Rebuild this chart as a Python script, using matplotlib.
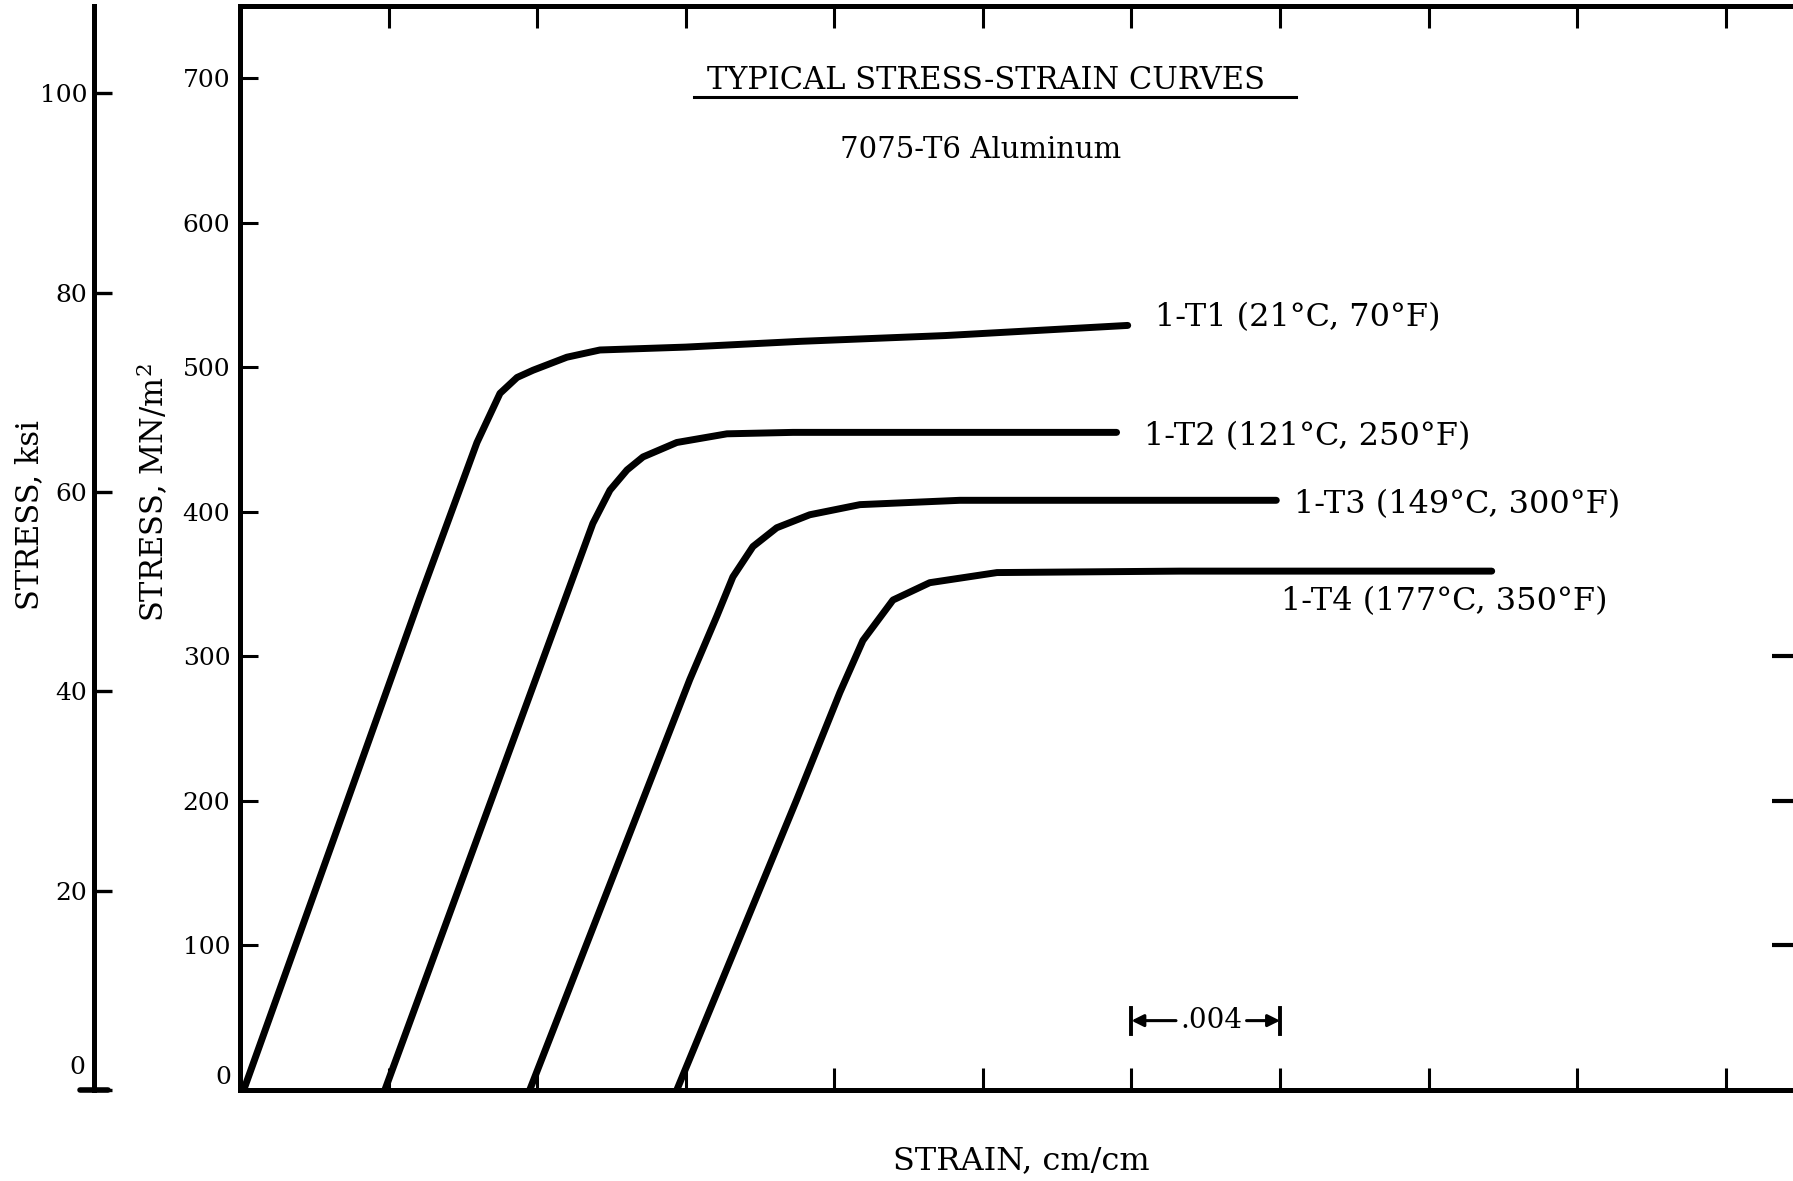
import matplotlib.pyplot as plt

plt.rcParams['font.family'] = ['DejaVu Serif']
plt.rcParams['mathtext.fontset'] = 'dejavuserif'

W, H = 1793, 1181
MPA_PER_KSI = 6.895

# stress-strain curves: strain (cm/cm), stress (MN/m^2)
T1_STRAIN = [0.0001, 0.0025, 0.00485, 0.00638, 0.0070, 0.00746, 0.00789,
             0.0088, 0.00969, 0.0120, 0.0151, 0.0190, 0.0239]
T1_STRESS = [0, 172, 341, 448, 482, 493, 498, 507, 512, 514, 518, 522, 529]

T2_STRAIN = [0.0039, 0.0095, 0.00996, 0.01042, 0.01085, 0.01176, 0.01311,
             0.01489, 0.0194, 0.0236]
T2_STRESS = [0, 392, 415, 429, 438, 448, 454, 455, 455, 455]

T3_STRAIN = [0.0078, 0.01211, 0.01284, 0.01327, 0.01381, 0.01445, 0.01534,
             0.01669, 0.01938, 0.0279]
T3_STRESS = [0, 284, 328, 355, 376, 389, 398, 405, 408, 408]

T4_STRAIN = [0.01176, 0.01499, 0.01615, 0.01677, 0.01758, 0.01857, 0.02038,
             0.0253, 0.0337]
T4_STRESS = [0, 201, 275, 311, 339, 351, 358, 359, 359]

CURVES = [(T1_STRAIN, T1_STRESS), (T2_STRAIN, T2_STRESS),
          (T3_STRAIN, T3_STRESS), (T4_STRAIN, T4_STRESS)]
CURVE_LABELS = ['1-T1 (21°C, 70°F)', '1-T2 (121°C, 250°F)',
                '1-T3 (149°C, 300°F)', '1-T4 (177°C, 350°F)']
LABEL_OFFSETS = [(20, 6), (20, -3), (13, -3), (-152, -22)]  # points from curve end

STRESS_TICKS = [0, 100, 200, 300, 400, 500, 600, 700]
KSI_TICKS = [0, 20, 40, 60, 80, 100]
STRAIN_TICKS = [0.004, 0.008, 0.012, 0.016, 0.020, 0.024, 0.028, 0.032,
                0.036, 0.040]
RIGHT_TICKS = [100, 200, 300]
SCALE_BAR = [0.024, 0.028]  # the ".004" strain marker
SCALE_BAR_STRESS = 48

TICK_FS = 18
KSI_SPINE = (94 - 240) / 1560  # axes fraction

fig = plt.figure(figsize=(W / 100, H / 100), dpi=100)
ax = fig.add_axes([240 / W, 91 / H, 1560 / W, 1084 / H])
ax.set_xlim(0, 0.042)
ax.set_ylim(0, 750)

for side in ['top', 'left', 'bottom']:
    ax.spines[side].set_linewidth(3.6)
ax.spines['right'].set_visible(False)

ax.set_xticks(STRAIN_TICKS)
ax.tick_params(axis='x', direction='in', top=True, bottom=True,
               labelbottom=False, length=16, width=2.2)
ax.set_yticks(STRESS_TICKS)
ax.set_yticklabels([''] + [str(v) for v in STRESS_TICKS[1:]])
ax.tick_params(axis='y', direction='in', left=True, right=False,
               length=13, width=2.2, labelsize=TICK_FS, pad=7)
ax.annotate('0', xy=(0, 0), xycoords=ax.get_yaxis_transform(),
            xytext=(-6, 9), textcoords='offset points',
            ha='right', va='center', fontsize=TICK_FS)

# right-hand ticks (the right border itself is off the sheet)
ax3 = ax.twinx()
ax3.set_ylim(0, 750)
ax3.set_yticks(RIGHT_TICKS)
ax3.tick_params(axis='y', direction='in', length=20, width=3, labelright=False)
for side in ax3.spines:
    ax3.spines[side].set_visible(False)

# ksi scale on a separate spine to the left
ax2 = ax.twinx()
ax2.set_ylim(0, 750 / MPA_PER_KSI)
ax2.yaxis.tick_left()
for side in ['top', 'right', 'bottom']:
    ax2.spines[side].set_visible(False)
ax2.spines['left'].set_position(('axes', KSI_SPINE))
ax2.spines['left'].set_linewidth(3.6)
ax2.set_yticks(KSI_TICKS)
ax2.set_yticklabels([''] + [str(v) for v in KSI_TICKS[1:]])
ax2.tick_params(axis='y', direction='in', length=13, width=2.4,
                labelsize=TICK_FS, pad=5)
ax2.annotate('0', xy=(KSI_SPINE, 0), xycoords=ax2.get_yaxis_transform(),
             xytext=(-6, 16), textcoords='offset points',
             ha='right', va='center', fontsize=TICK_FS)
ax2.plot([KSI_SPINE - 0.009, KSI_SPINE + 0.009], [0, 0],
         transform=ax2.get_yaxis_transform(),
         color='black', lw=4, solid_capstyle='round', clip_on=False)

# curves and labels
for (strain, stress), label, off in zip(CURVES, CURVE_LABELS, LABEL_OFFSETS):
    ax.plot(strain, stress, color='black', lw=5,
            solid_capstyle='round', solid_joinstyle='round')
    ax.annotate(label, xy=(strain[-1], stress[-1]), xytext=off,
                textcoords='offset points', ha='left', va='center', fontsize=23)

# .004 strain scale marker
for x in SCALE_BAR:
    ax.plot([x, x], [SCALE_BAR_STRESS - 9, SCALE_BAR_STRESS + 9],
            color='black', lw=2.8)
mid = (SCALE_BAR[0] + SCALE_BAR[1]) / 2
ax.annotate('', xy=(SCALE_BAR[0], SCALE_BAR_STRESS),
            xytext=(mid - 0.0008, SCALE_BAR_STRESS),
            arrowprops=dict(arrowstyle='-|>', color='black', lw=2.2,
                            mutation_scale=18, shrinkA=0, shrinkB=0))
ax.annotate('', xy=(SCALE_BAR[1], SCALE_BAR_STRESS),
            xytext=(mid + 0.0011, SCALE_BAR_STRESS),
            arrowprops=dict(arrowstyle='-|>', color='black', lw=2.2,
                            mutation_scale=18, shrinkA=0, shrinkB=0))
ax.text(mid + 0.00015, SCALE_BAR_STRESS, '.004', ha='center', va='center',
        fontsize=20)

# title block
ax.text(0.478, 0.931, 'TYPICAL STRESS-STRAIN CURVES', transform=ax.transAxes,
        ha='center', va='center', fontsize=22)
ax.plot([0.291, 0.677], [0.916, 0.916], transform=ax.transAxes,
        color='black', lw=2.2)
ax.text(0.475, 0.867, '7075-T6 Aluminum', transform=ax.transAxes,
        ha='center', va='center', fontsize=21)

# axis titles
fig.text(30 / W, 1 - 515 / H, 'STRESS, ksi', rotation=90,
         ha='center', va='center', fontsize=22)
fig.text(153 / W, 1 - 493 / H, 'STRESS, MN/m$^2$', rotation=90,
         ha='center', va='center', fontsize=22)
fig.text(1021 / W, 1 - 1161 / H, 'STRAIN, cm/cm',
         ha='center', va='center', fontsize=23)

fig.savefig('out.png', dpi=100)
